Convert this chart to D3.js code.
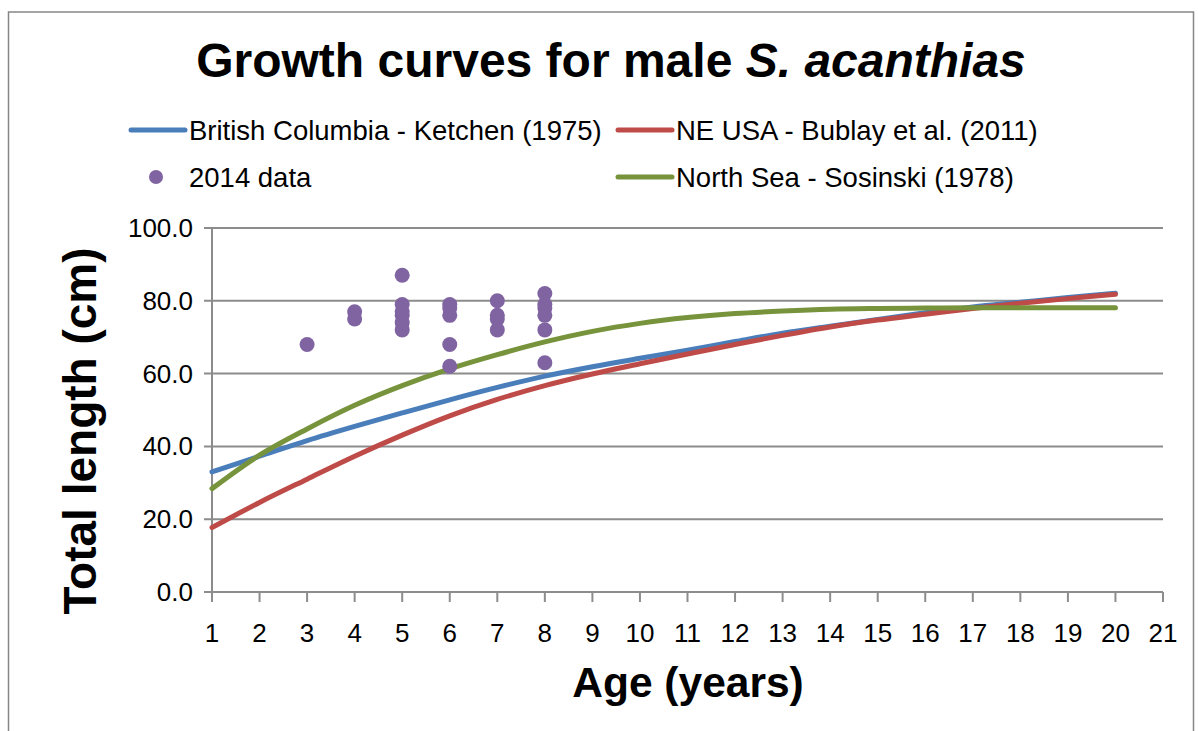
<!DOCTYPE html>
<html>
<head>
<meta charset="utf-8">
<script src="https://cdn.jsdelivr.net/npm/d3@7"></script>
<style>
  body { margin: 0; background: #fff; }
  svg { font-family: "Liberation Sans", Arial, sans-serif; }
</style>
</head>
<body>
<div class="chart"></div>
<script>
// ages for the fitted curves
const ages = d3.range(1, 21);
// values, cm
const bcKetchen = [33.0, 37.3, 41.6, 45.5, 49.2, 52.8, 56.2, 59.3, 61.9, 64.2,
  66.4, 68.8, 71.1, 73.0, 74.9, 76.7, 78.3, 79.6, 80.9, 82.1];
const neUsaBublay = [17.7, 24.6, 31.0, 37.3, 43.1, 48.4, 52.9, 56.7, 59.9, 62.7,
  65.4, 68.0, 70.5, 72.8, 74.7, 76.3, 77.9, 79.3, 80.6, 81.8];
const northSeaSosinski = [28.4, 37.6, 44.8, 51.3, 56.7, 61.3, 65.2, 68.7, 71.6, 73.8,
  75.4, 76.5, 77.2, 77.7, 77.9, 78.0, 78.1, 78.1, 78.1, 78.1];
// 2014 data points
const dataAge = [3, 4, 4, 5, 5, 5, 5, 5, 5, 6, 6, 6, 6, 6, 7, 7, 7, 7, 8, 8, 8, 8, 8, 8];
const dataLength = [68, 77, 75, 87, 79, 77, 76, 74, 72, 79, 78, 76, 68, 62, 80, 76, 75, 72, 82, 79, 78, 76, 72, 63];
const xTicks = d3.range(1, 22);
const yTicks = [0, 20, 40, 60, 80, 100];

const width = 1198;
const height = 731;
const svg = d3
  .select(".chart")
  .append("svg")
  .attr("width", width)
  .attr("height", height);

// outer border
svg
  .append("rect")
  .attr("x", 8.5)
  .attr("y", 12)
  .attr("width", 1185)
  .attr("height", 740)
  .attr("fill", "none")
  .attr("stroke", "#868686")
  .attr("stroke-width", 1.5);

const x = d3.scaleLinear().domain([1, 21]).range([212, 1163]);
const y = d3.scaleLinear().domain([0, 100]).range([592, 228]);

// gridlines
svg
  .selectAll(".grid")
  .data(yTicks)
  .enter()
  .append("line")
  .attr("x1", 204)
  .attr("x2", 1163)
  .attr("y1", (d) => y(d))
  .attr("y2", (d) => y(d))
  .attr("stroke", "#8c8c8c")
  .attr("stroke-width", 2);

// y axis line
svg
  .append("line")
  .attr("x1", x(1))
  .attr("x2", x(1))
  .attr("y1", y(100))
  .attr("y2", y(0) + 10)
  .attr("stroke", "#8c8c8c")
  .attr("stroke-width", 2);

// x ticks
svg
  .selectAll(".xtick")
  .data(xTicks)
  .enter()
  .append("line")
  .attr("x1", (d) => x(d))
  .attr("x2", (d) => x(d))
  .attr("y1", y(0))
  .attr("y2", y(0) + 10)
  .attr("stroke", "#8c8c8c")
  .attr("stroke-width", 2);

svg
  .selectAll(".xlabel")
  .data(xTicks)
  .enter()
  .append("text")
  .attr("x", (d) => x(d))
  .attr("y", 642)
  .attr("font-size", "26px")
  .attr("text-anchor", "middle")
  .text((d) => d);

svg
  .selectAll(".ylabel")
  .data(yTicks)
  .enter()
  .append("text")
  .attr("x", 193)
  .attr("y", (d) => y(d) + 9)
  .attr("font-size", "26px")
  .attr("text-anchor", "end")
  .text((d) => d3.format(".1f")(d));

// curves
const series = [
  { vals: bcKetchen, color: "#4a7ebb" },
  { vals: neUsaBublay, color: "#be4b48" },
  { vals: northSeaSosinski, color: "#77933c" },
];
const line = d3
  .line()
  .x((d, i) => x(ages[i]))
  .y((d) => y(d))
  .curve(d3.curveCatmullRom);

svg
  .selectAll(".curve")
  .data(series)
  .enter()
  .append("path")
  .attr("d", (d) => line(d.vals))
  .attr("fill", "none")
  .attr("stroke", (d) => d.color)
  .attr("stroke-width", 5)
  .attr("stroke-linecap", "round");

// 2014 data
svg
  .selectAll(".pt")
  .data(dataAge)
  .enter()
  .append("circle")
  .attr("cx", (d) => x(d))
  .attr("cy", (d, i) => y(dataLength[i]))
  .attr("r", 7.5)
  .attr("fill", "#8064a2");

// title
const title = svg
  .append("text")
  .attr("x", 611)
  .attr("y", 77)
  .attr("font-size", "48px")
  .attr("font-weight", "bold")
  .attr("text-anchor", "middle");
title.append("tspan").text("Growth curves for male ");
title.append("tspan").attr("font-style", "italic").text("S. acanthias");

// legend
const legendLines = [
  { x: 131, y: 130, color: "#4a7ebb", label: "British Columbia - Ketchen (1975)" },
  { x: 618, y: 130, color: "#be4b48", label: "NE USA - Bublay et al. (2011)" },
  { x: 618, y: 177, color: "#77933c", label: "North Sea - Sosinski (1978)" },
];
const leg = svg.selectAll(".leg").data(legendLines).enter().append("g");
leg
  .append("line")
  .attr("x1", (d) => d.x)
  .attr("x2", (d) => d.x + 54)
  .attr("y1", (d) => d.y)
  .attr("y2", (d) => d.y)
  .attr("stroke", (d) => d.color)
  .attr("stroke-width", 5)
  .attr("stroke-linecap", "round");
leg
  .append("text")
  .attr("x", (d) => d.x + 58)
  .attr("y", (d) => d.y + 10)
  .attr("font-size", "27.5px")
  .text((d) => d.label);

svg
  .append("circle")
  .attr("cx", 156)
  .attr("cy", 177)
  .attr("r", 7)
  .attr("fill", "#8064a2");
svg
  .append("text")
  .attr("x", 189)
  .attr("y", 187)
  .attr("font-size", "27.5px")
  .text("2014 data");

// axis titles
svg
  .append("text")
  .attr("x", 688)
  .attr("y", 697)
  .attr("font-size", "42.5px")
  .attr("font-weight", "bold")
  .attr("text-anchor", "middle")
  .text("Age (years)");

svg
  .append("text")
  .attr("transform", "translate(96,431) rotate(-90)")
  .attr("font-size", "46px")
  .attr("font-weight", "bold")
  .attr("text-anchor", "middle")
  .text("Total length (cm)");
</script>
</body>
</html>
